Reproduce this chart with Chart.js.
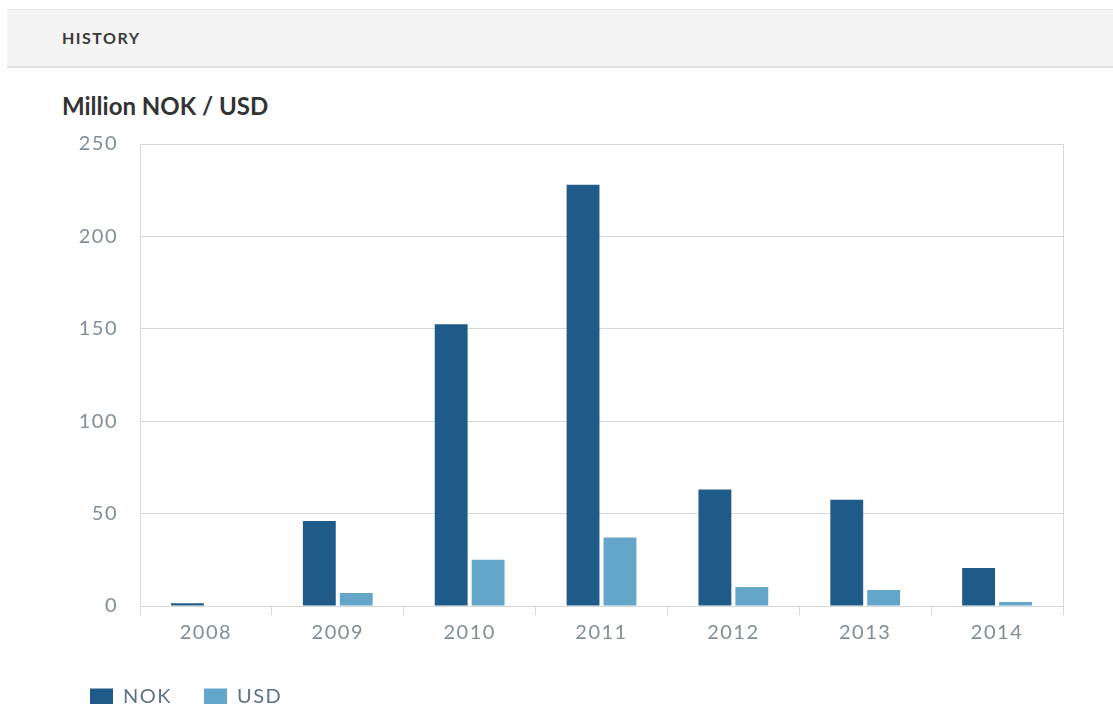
<!DOCTYPE html>
<html>
<head>
<meta charset="utf-8">
<script src="https://cdn.jsdelivr.net/npm/chart.js@4/dist/chart.umd.min.js"></script>
<style>
  html, body { margin: 0; padding: 0; background: #fff; }
  body { width: 1113px; height: 704px; overflow: hidden; position: relative; font-family: Lato, "Open Sans", sans-serif; }
  .band {
    position: absolute; left: 7px; top: 9px; right: 0; height: 56px;
    background: #f4f4f4; border-top: 1px solid #e6e6e6; border-bottom: 2px solid #e2e2e2;
  }
  .band span {
    position: absolute; left: 55px; top: 18px; font-size: 16px; font-weight: 700;
    color: #3a3a3a; letter-spacing: 1.5px;
  }
  h2 {
    position: absolute; left: 62px; top: 91px; margin: 0;
    font-size: 24px; font-weight: 700; color: #333;
  }
  .wrap { position: absolute; left: 0; top: 110px; width: 1113px; height: 607px; }
</style>
</head>
<body>
<div class="band"><span>HISTORY</span></div>
<h2>Million NOK / USD</h2>
<div class="wrap"><canvas id="chart"></canvas></div>
<script>
const years = ['2008', '2009', '2010', '2011', '2012', '2013', '2014'];
const nok = [1.5, 46, 152.5, 228, 63, 57.5, 20.5];
const usd = [0.3, 7, 25, 37, 10.3, 8.7, 2.2];
const yTicks = [0, 50, 100, 150, 200, 250];

const NOK_COLOR = '#1f5b88';
const USD_COLOR = '#63a6c9';
const GRID = '#d8d8d8';
const TICK = '#808e9a';

// the reference font is spaced out a bit, canvas can do that too
const spacing = {
  id: 'spacing',
  beforeUpdate(chart) { chart.ctx.letterSpacing = '1.5px'; },
  beforeDraw(chart) { chart.ctx.letterSpacing = '1.5px'; }
};

// right edge of the frame (no axis there)
const frame = {
  id: 'frame',
  beforeDatasetsDraw(chart) {
    const { ctx, chartArea: a } = chart;
    ctx.save();
    ctx.strokeStyle = GRID;
    ctx.lineWidth = 1;
    ctx.beginPath();
    ctx.moveTo(Math.round(a.right) + 0.5, a.top);
    ctx.lineTo(Math.round(a.right) + 0.5, a.bottom + 9);
    ctx.stroke();
    ctx.restore();
  }
};

new Chart(document.getElementById('chart'), {
  type: 'bar',
  data: {
    labels: years,
    datasets: [
      { label: 'NOK', data: nok, backgroundColor: NOK_COLOR, barPercentage: 0.89, categoryPercentage: 0.56 },
      { label: 'USD', data: usd, backgroundColor: USD_COLOR, barPercentage: 0.89, categoryPercentage: 0.56 }
    ]
  },
  options: {
    responsive: true,
    maintainAspectRatio: false,
    animation: false,
    layout: { padding: { left: 58, right: 50, top: 16, bottom: 0 } },
    plugins: {
      tooltip: { enabled: false },
      legend: {
        position: 'bottom',
        align: 'start',
        labels: {
          boxWidth: 23,
          boxHeight: 17,
          padding: 32,
          color: '#5c7386',
          font: { family: 'Lato', size: 20 }
        }
      }
    },
    scales: {
      x: {
        offset: true,
        afterFit(scale) { scale.height += 4; },
        grid: { offset: true, drawOnChartArea: false, drawTicks: true, tickLength: 9, color: GRID },
        border: { display: true, color: GRID },
        ticks: { color: TICK, padding: 6, font: { family: 'Lato', size: 20 } }
      },
      y: {
        min: 0,
        max: 250,
        afterBuildTicks(scale) { scale.ticks = yTicks.map(v => ({ value: v })); },
        afterFit(scale) { scale.width = 82; },
        grid: { color: GRID, drawTicks: false },
        border: { display: true, color: GRID },
        ticks: { color: TICK, padding: 22, font: { family: 'Lato', size: 20 } }
      }
    }
  },
  plugins: [spacing, frame]
});
</script>
</body>
</html>
